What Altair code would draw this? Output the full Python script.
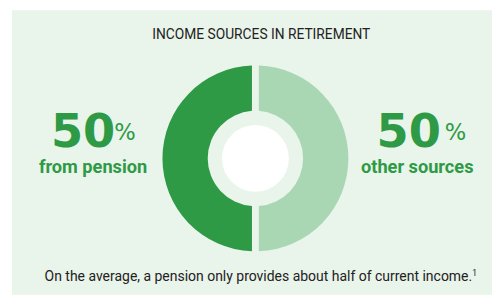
import altair as alt
import pandas as pd

# ---- data ----
categories = ["from pension", "other sources"]
shares = [50, 50]
share_labels = ["50", "50"]
title_text = "INCOME SOURCES IN RETIREMENT"
footnote_text = "On the average, a pension only provides about half of current income."
footnote_mark = "1"

DARK = "#2e9a45"
LIGHT = "#a9d7b3"
BG = "#e9f4ea"

W, H = 488, 289
CX, CY = 247.5, 150.5
FULL = 6.2832

donut_df = pd.DataFrame({"category": categories, "share": shares, "order": [1, 0]})

donut = alt.Chart(donut_df).mark_arc(
    radius=94.5, radius2=48.5, padAngle=0.066, x=CX, y=CY
).encode(
    theta=alt.Theta("share:Q", stack=True),
    order=alt.Order("order:Q"),
    color=alt.Color("category:N", scale=alt.Scale(domain=categories, range=[DARK, LIGHT]), legend=None),
)

hole_df = pd.DataFrame({"v": [1]})
hole = alt.Chart(hole_df).mark_arc(radius=34, x=CX, y=CY, theta=0, theta2=FULL).encode(
    color=alt.value("white")
)

title = alt.Chart(pd.DataFrame({"t": [title_text]})).mark_text(
    x=253.5, y=29.5, align="center", baseline="alphabetic", font="Roboto", fontSize=14, color="#222222"
).encode(text="t:N")

big_df = pd.DataFrame({"t": share_labels, "x": [105, 436]})
big = alt.Chart(big_df).mark_text(
    y=139, align="right", baseline="alphabetic", font="DejaVu Sans", fontSize=47, fontWeight="bold", color=DARK
).encode(text="t:N", x=alt.X("x:Q", scale=None))

pct_df = pd.DataFrame({"t": ["%", "%"], "x": [104, 440]})
pct = alt.Chart(pct_df).mark_text(
    y=132, align="left", baseline="alphabetic", font="DejaVu Sans", fontSize=23, color=DARK
).encode(text="t:N", x=alt.X("x:Q", scale=None))

lab_df = pd.DataFrame({"t": categories, "x": [82.5, 412]})
labels = alt.Chart(lab_df).mark_text(
    y=165, align="center", baseline="alphabetic", font="Roboto", fontSize=18.5, fontWeight="bold", color=DARK
).encode(text="t:N", x=alt.X("x:Q", scale=None))

foot = alt.Chart(pd.DataFrame({"t": [footnote_text]})).mark_text(
    x=250.5, y=275.3, align="center", baseline="alphabetic", font="Roboto", fontSize=14.2, color="#222222"
).encode(text="t:N")

sup = alt.Chart(pd.DataFrame({"t": [footnote_mark]})).mark_text(
    x=468, y=270, align="left", baseline="alphabetic", font="Roboto", fontSize=8.5, color="#222222"
).encode(text="t:N")

chart = alt.layer(donut, hole, title, big, pct, labels, foot, sup).properties(
    width=W, height=H,
    autosize=alt.AutoSizeParams(type="none"),
    padding={"left": 4, "top": 0, "right": 0, "bottom": 0},
    background="white",
).configure_view(fill=BG, stroke=None)

chart.save("out.html", embed_options={"renderer": "svg", "actions": False})
